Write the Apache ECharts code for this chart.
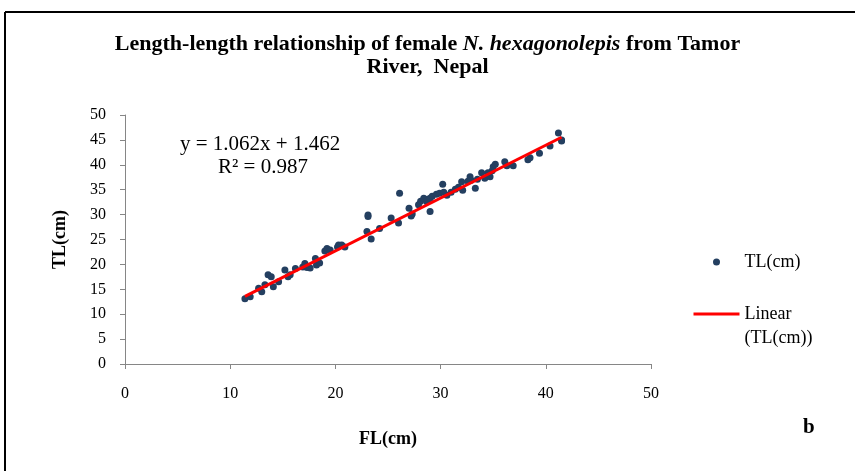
<!DOCTYPE html>
<html>
<head>
<meta charset="utf-8">
<script src="https://cdn.jsdelivr.net/npm/echarts@6/dist/echarts.min.js"></script>
<style>
  html, body { margin: 0; padding: 0; background: #fff; }
  #chart { width: 855px; height: 471px; }
</style>
</head>
<body>
<div id="chart"></div>
<script>
// Fork length (cm) of each female fish
const flValues = [
  11.4, 11.9, 12.7, 13.0, 13.3, 13.6, 13.9, 14.1, 14.6, 15.2, 15.5, 15.7, 16.2,
  16.9, 17.1, 17.3, 17.6, 18.1, 18.2, 18.5, 19.0, 19.2, 19.5, 20.2, 20.3, 20.6, 20.9,
  23.0, 23.1, 23.1, 23.4, 24.2, 25.3, 26.0, 26.1, 27.0, 27.2, 27.3, 27.9, 28.1,
  28.4, 28.7, 28.8, 29.0, 29.0, 29.2, 29.6, 29.9, 30.2, 30.3, 30.6, 31.0, 31.4,
  31.7, 32.0, 32.1, 32.6, 32.8, 32.9, 33.3, 33.5, 33.9, 34.2, 34.5, 34.7, 34.9,
  35.0, 35.2, 36.1, 36.3, 36.9, 38.3, 38.5, 39.4, 40.4, 41.2, 41.5, 41.5
];
// Total length (cm) of the same fish
const tlValues = [
  13.1, 13.5, 15.2, 14.5, 15.9, 17.9, 17.5, 15.5, 16.5, 18.9, 17.5, 17.9, 19.2,
  19.5, 20.2, 19.4, 19.3, 21.2, 19.9, 20.3, 22.7, 23.2, 22.9, 23.5, 23.9, 23.9, 23.5,
  26.6, 29.6, 29.9, 25.1, 27.2, 29.3, 28.3, 34.3, 31.3, 29.7, 30.1, 32.0, 32.7,
  33.3, 32.6, 33.1, 33.3, 30.6, 33.7, 34.1, 34.3, 36.1, 34.5, 33.9, 34.5, 35.1,
  35.5, 36.6, 34.9, 36.7, 37.6, 36.9, 35.3, 37.1, 38.4, 37.3, 38.4, 37.6, 38.8,
  39.6, 40.1, 40.6, 39.8, 39.8, 41.0, 41.4, 42.3, 43.8, 46.4, 45.0, 44.8
];
// Fitted linear trend TL = slope * FL + intercept
const trendSlope = [1.062];
const trendIntercept = [1.462];
const rSquared = [0.987];
const xTicks = [0, 10, 20, 30, 40, 50];
const yTicks = [0, 5, 10, 15, 20, 25, 30, 35, 40, 45, 50];

const points = flValues.map((fl, i) => [fl, tlValues[i]]);
const flMin = Math.min(...flValues);
const flMax = Math.max(...flValues);
const trendLine = [flMin, flMax].map(x => [x, trendSlope[0] * x + trendIntercept[0]]);

const serif = '"Liberation Serif", "DejaVu Serif", serif';
const axisColor = '#868686';

const chart = echarts.init(document.getElementById('chart'));
chart.setOption({
  animation: false,
  backgroundColor: '#ffffff',
  title: {
    text: '{n|Length-length relationship of female }{i|N. hexagonolepis}{n| from Tamor}\n{n|River,  Nepal}',
    left: 'center',
    top: 28,
    textStyle: {
      rich: {
        n: { fontFamily: serif, fontWeight: 'bold', fontSize: 22, color: '#000', lineHeight: 23 },
        i: { fontFamily: serif, fontWeight: 'bold', fontStyle: 'italic', fontSize: 22, color: '#000', lineHeight: 23 }
      }
    }
  },
  grid: { left: 125, right: 204, top: 115, bottom: 107, containLabel: false },
  xAxis: {
    type: 'value',
    min: xTicks[0],
    max: xTicks[xTicks.length - 1],
    interval: 10,
    name: 'FL(cm)',
    nameLocation: 'middle',
    nameGap: 66,
    nameTextStyle: { fontFamily: serif, fontWeight: 'bold', fontSize: 18, color: '#000' },
    axisLine: { lineStyle: { color: axisColor, width: 1 } },
    axisTick: { show: true, length: 5, inside: false, lineStyle: { color: axisColor } },
    axisLabel: { fontFamily: serif, fontSize: 16, color: '#000', margin: 22 },
    splitLine: { show: false }
  },
  yAxis: {
    type: 'value',
    min: yTicks[0],
    max: yTicks[yTicks.length - 1],
    interval: 5,
    name: 'TL(cm)',
    nameLocation: 'middle',
    nameGap: 56,
    nameRotate: 90,
    nameTextStyle: { fontFamily: serif, fontWeight: 'bold', fontSize: 18, color: '#000' },
    axisLine: { show: true, lineStyle: { color: axisColor, width: 1 } },
    axisTick: { show: true, length: 5, inside: false, lineStyle: { color: axisColor } },
    axisLabel: { fontFamily: serif, fontSize: 16, color: '#000', margin: 19 },
    splitLine: { show: false }
  },
  legend: {
    orient: 'vertical',
    left: 687,
    top: 245,
    itemWidth: 46,
    itemHeight: 7,
    itemGap: 4,
    textStyle: { fontFamily: serif, fontSize: 18, color: '#000', lineHeight: 24 },
    // leading blank line keeps "Linear" level with the line icon
    formatter: name => name === 'Linear (TL(cm))' ? ' \nLinear\n(TL(cm))' : name,
    data: [
      { name: 'TL(cm)', icon: 'circle' },
      { name: 'Linear (TL(cm))', itemStyle: { opacity: 0 }, lineStyle: { color: '#FF0000', width: 3 } }
    ]
  },
  series: [
    {
      name: 'TL(cm)',
      type: 'scatter',
      data: points,
      symbol: 'circle',
      symbolSize: 7,
      itemStyle: { color: '#243F60', opacity: 1 },
      z: 2
    },
    {
      name: 'Linear (TL(cm))',
      type: 'line',
      data: trendLine,
      showSymbol: false,
      symbol: 'none',
      lineStyle: { color: '#FF0000', width: 3 },
      itemStyle: { color: '#FF0000' },
      z: 3
    }
  ],
  graphic: [
    {
      type: 'text',
      left: 180,
      top: 134,
      style: {
        text: 'y = ' + trendSlope[0].toFixed(3) + 'x + ' + trendIntercept[0].toFixed(3),
        fontFamily: serif, fontSize: 21, fill: '#000'
      }
    },
    {
      type: 'text',
      left: 218,
      top: 157,
      style: {
        text: 'R² = ' + rSquared[0].toFixed(3),
        fontFamily: serif, fontSize: 21, fill: '#000'
      }
    },
    {
      type: 'text',
      left: 803,
      top: 417,
      style: { text: 'b', fontFamily: serif, fontWeight: 'bold', fontSize: 21, fill: '#000' }
    },
    {
      type: 'line',
      shape: { x1: 5, y1: 12, x2: 855, y2: 12 },
      style: { stroke: '#000', lineWidth: 2 }
    },
    {
      type: 'line',
      shape: { x1: 5, y1: 12, x2: 5, y2: 471 },
      style: { stroke: '#000', lineWidth: 2 }
    }
  ]
});
</script>
</body>
</html>
